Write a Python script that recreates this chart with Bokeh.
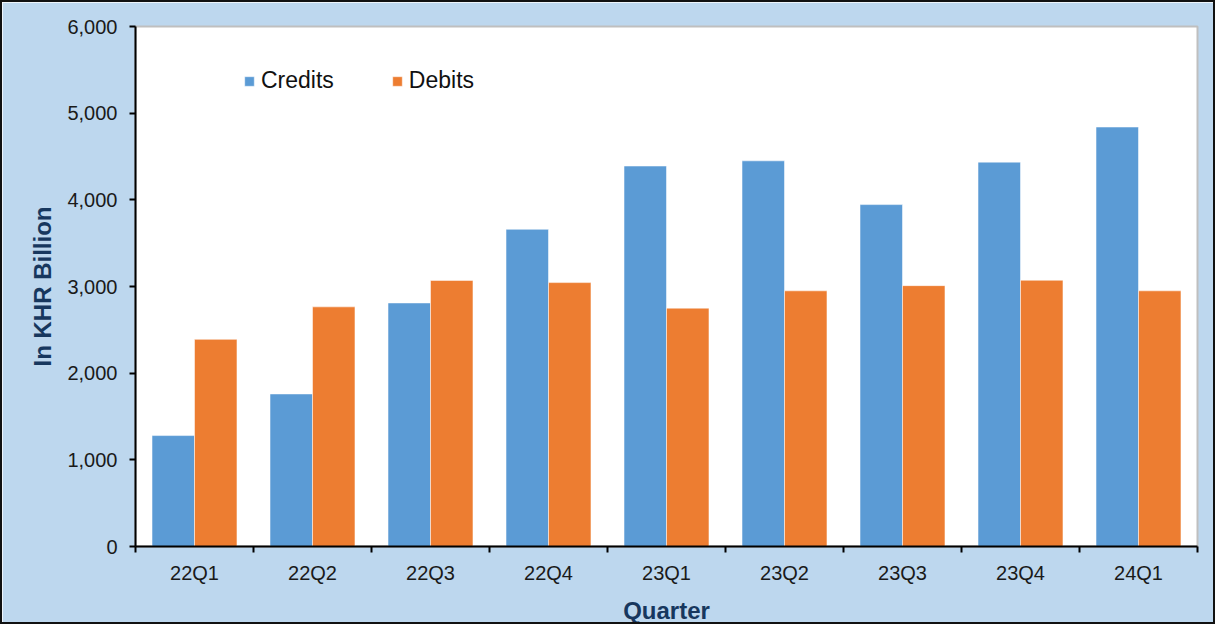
import numpy as np
from bokeh.plotting import figure
from bokeh.models import (Range1d, FixedTicker, NumeralTickFormatter, CustomJSTickFormatter,
                          Legend, LegendItem, ColumnDataSource)
from bokeh.embed import file_html
from bokeh.resources import INLINE

quarters = ["22Q1", "22Q2", "22Q3", "22Q4", "23Q1", "23Q2", "23Q3", "23Q4", "24Q1"]
credits = [1280, 1760, 2810, 3660, 4390, 4450, 3945, 4435, 4840]
debits = [2390, 2765, 3070, 3045, 2750, 2950, 3010, 3072, 2950]
y_ticks = [0, 1000, 2000, 3000, 4000, 5000, 6000]

BLUE = "#5B9BD5"
ORANGE = "#ED7D31"
BG = "#BDD7EE"
NAVY = "#17375E"
FONT = "Liberation Sans"

centers = np.arange(len(quarters)) + 0.5
src = ColumnDataSource(dict(xc=centers - 0.18, xd=centers + 0.18, credits=credits, debits=debits))

p = figure(width=1211, height=620, output_backend="svg", toolbar_location=None,
           x_range=Range1d(0, len(quarters)), y_range=Range1d(0, 6000),
           min_border_left=133, min_border_top=24, min_border_right=20, min_border_bottom=79)
p.styles = {"border": "2px solid #111111", "box-sizing": "content-box"}
p.background_fill_color = "white"
p.border_fill_color = BG
p.outline_line_color = "#BFBFBF"
p.outline_line_width = 2
p.xgrid.visible = False
p.ygrid.visible = False

r1 = p.vbar(x="xc", top="credits", width=0.36, source=src, fill_color=BLUE,
            line_color="white", line_alpha=0.5, line_width=1)
r2 = p.vbar(x="xd", top="debits", width=0.36, source=src, fill_color=ORANGE,
            line_color="white", line_alpha=0.5, line_width=1)

# x axis: labels at centres, ticks at category boundaries
xa = p.xaxis[0]
xa.ticker = FixedTicker(ticks=list(centers), minor_ticks=list(range(len(quarters) + 1)))
xa.formatter = CustomJSTickFormatter(args=dict(labels=quarters),
                                     code="return labels[Math.floor(tick)];")
xa.major_tick_line_color = None
xa.minor_tick_line_color = "black"
xa.minor_tick_line_width = 2
xa.minor_tick_in = 0
xa.minor_tick_out = 6
xa.axis_line_color = "black"
xa.axis_line_width = 2
xa.major_label_text_font = FONT
xa.major_label_text_font_size = "20px"
xa.major_label_text_color = "#1a1a1a"
xa.major_label_standoff = 9
xa.axis_label = "Quarter"
xa.axis_label_text_font = FONT
xa.axis_label_text_font_style = "bold"
xa.axis_label_text_font_size = "24px"
xa.axis_label_text_color = NAVY
xa.axis_label_standoff = 10

ya = p.yaxis[0]
ya.ticker = FixedTicker(ticks=y_ticks)
ya.formatter = NumeralTickFormatter(format="0,0")
ya.major_tick_line_color = "black"
ya.major_tick_line_width = 2
ya.major_tick_in = 0
ya.major_tick_out = 6
ya.minor_tick_line_color = None
ya.axis_line_color = "black"
ya.axis_line_width = 2
ya.major_label_text_font = FONT
ya.major_label_text_font_size = "20px"
ya.major_label_text_color = "#1a1a1a"
ya.major_label_standoff = 12
ya.axis_label = "In KHR Billion"
ya.axis_label_text_font = FONT
ya.axis_label_text_font_style = "bold"
ya.axis_label_text_font_size = "24px"
ya.axis_label_text_color = NAVY
ya.axis_label_standoff = 8

legend = Legend(items=[LegendItem(label="Credits", renderers=[r1]),
                       LegendItem(label="Debits", renderers=[r2])],
                location=(108, 452), orientation="horizontal",
                glyph_width=12, glyph_height=12, label_standoff=6, spacing=57,
                padding=0, margin=0, border_line_color=None, background_fill_alpha=0,
                label_text_font=FONT, label_text_font_size="23px", label_text_color="#111111")
p.add_layout(legend, "center")

open("out.html", "w").write(file_html(p, INLINE))
